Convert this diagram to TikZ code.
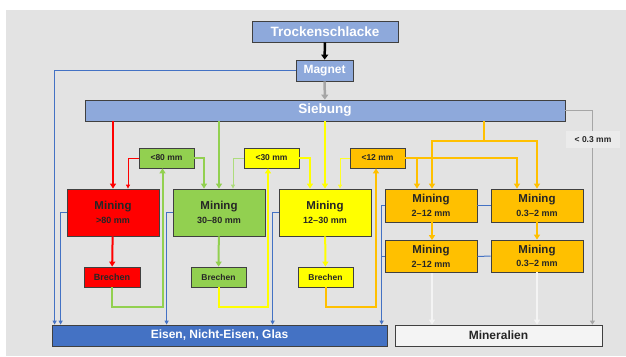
\documentclass[tikz,border=0pt]{standalone}
\usepackage{fontspec}
\setmainfont{Liberation Sans}
\usetikzlibrary{arrows.meta}

\definecolor{sbblue}{HTML}{8EA9DB}
\definecolor{darkblue}{HTML}{4472C4}
\definecolor{mred}{HTML}{FF0000}
\definecolor{mgreen}{HTML}{92D050}
\definecolor{myellow}{HTML}{FFFF00}
\definecolor{morange}{HTML}{FFC000}
\definecolor{bggray}{HTML}{E3E3E3}
\definecolor{lblgray}{HTML}{EBEBEB}
\definecolor{bordergray}{HTML}{404040}
\definecolor{linegray}{HTML}{A6A6A6}
\definecolor{offwhite}{HTML}{F4F4F4}
\definecolor{txtgray}{HTML}{262626}

\newcommand\miningtext[1]{\fontsize{11.5}{13}\selectfont Mining\\[1.5pt]\fontsize{9}{11}\selectfont #1}

\tikzset{
  box/.style={draw=bordergray,line width=0.8pt,inner sep=0pt,font=\bfseries,text=txtgray,align=center},
  head/.style={box,fill=sbblue,text=white,minimum height=21pt,font=\bfseries\fontsize{13.5}{15}\selectfont},
  klass/.style={box,minimum width=55pt,minimum height=20pt,font=\bfseries\fontsize{8.5}{10}\selectfont},
  mining/.style={box,minimum width=92pt},
  brech/.style={box,minimum width=55pt,minimum height=20pt,font=\bfseries\fontsize{8.5}{10}\selectfont},
  outbox/.style={box,minimum height=21pt,font=\bfseries\fontsize{12}{14}\selectfont},
  fat/.style={line width=2pt,-{Triangle[length=5pt,width=6pt]}},
  slim/.style={line width=0.9pt,-{Triangle[length=4pt,width=4pt]}},
  bline/.style={line width=1pt,darkblue,-{Triangle[length=4pt,width=4pt]}}
}

\begin{document}
\begin{tikzpicture}[x=1pt,y=-1pt]
  % background
  \useasboundingbox (0,0) rectangle (626,356);
  \fill[white] (0,0) rectangle (626,356);
  \fill[bggray] (6,10) rectangle (626,356);

  % main line
  \node[head,minimum width=146pt] (troc) at (325,31.5) {Trockenschlacke};
  \node[head,minimum width=57pt,font=\bfseries\fontsize{12}{14}\selectfont] (magnet) at (324.5,70.5) {Magnet};
  \node[head,minimum width=480pt] (sieb) at (325,110.5) {Siebung};

  % size classes
  \node[klass,fill=mgreen] (k80) at (166.5,158) {<80 mm};
  \node[klass,fill=myellow] (k30) at (271.5,158) {<30 mm};
  \node[klass,fill=morange] (k12) at (377.5,158) {<12 mm};

  % mining
  \node[mining,fill=mred,minimum height=47pt] (m80) at (113,212.5) {\miningtext{>80 mm}};
  \node[mining,fill=mgreen,minimum height=47pt] (m30) at (219,212.5) {\miningtext{30--80 mm}};
  \node[mining,fill=myellow,minimum height=47pt] (m12) at (325,212.5) {\miningtext{12--30 mm}};
  \node[mining,fill=morange,minimum height=33pt] (m212a) at (431,205.5) {\miningtext{2--12 mm}};
  \node[mining,fill=morange,minimum height=33pt] (m03a) at (537,205.5) {\miningtext{0.3--2 mm}};
  \node[mining,fill=morange,minimum height=32pt] (m212b) at (431,256.5) {\miningtext{2--12 mm}};
  \node[mining,fill=morange,minimum height=32pt] (m03b) at (537,256) {\miningtext{0.3--2 mm}};

  % crushers
  \node[brech,fill=mred,minimum width=56pt,font=\bfseries\fontsize{9}{10}\selectfont] (b80) at (112,277) {Brechen};
  \node[brech,fill=mgreen] (b30) at (218.5,277) {Brechen};
  \node[brech,fill=myellow] (b12) at (325.5,277) {Brechen};

  % products
  \node[outbox,fill=darkblue,text=white,minimum width=335pt] (eisen) at (219.5,335.5) {Eisen, Nicht-Eisen, Glas};
  \node[outbox,fill=offwhite,minimum width=207pt] (miner) at (498.5,335.5) {Mineralien};

  % feed
  \draw[line width=2.5pt,black,-{Triangle[length=5pt,width=7pt]}] (troc) -- (magnet);
  \draw[line width=2.5pt,linegray,-{Triangle[length=5pt,width=7pt]}] (magnet) -- (sieb);
  \draw[bline] (magnet.west) -| ([xshift=3]eisen.north west);
  \draw[line width=1.3pt,linegray,-{Triangle[length=4pt,width=5pt]}] (sieb.east) -| ([xshift=-10]miner.north east);
  \node[fill=lblgray,minimum width=54pt,minimum height=17pt,inner sep=0pt,font=\bfseries\fontsize{8.5}{10}\selectfont,text=txtgray] (l03) at (593,139.5) {< 0.3 mm};

  % screen outputs
  \draw[fat,mred] (sieb.south -| m80.north) -- (m80.north);
  \draw[fat,mgreen] (sieb.south -| m30.north) -- (m30.north);
  \draw[fat,myellow] (sieb.south -| m12.north) -- (m12.north);
  \coordinate (split) at (484,141);
  \draw[line width=2pt,morange] (sieb.south -| split) -- (split);
  \draw[line width=2pt,morange,{Triangle[length=5pt,width=6pt]}-{Triangle[length=5pt,width=6pt]}] ([xshift=1]m212a.north) |- (split) -| (m03a.north);

  % class boxes to mining
  \draw[slim,mred] (k80.west) -| ([xshift=15]m80.north);
  \draw[fat,mgreen] (k80.east) -| ([xshift=-15]m30.north);
  \draw[slim,mgreen!75!white] (k30.west) -| ([xshift=14]m30.north);
  \draw[fat,myellow] (k30.east) -| ([xshift=-15]m12.north);
  \draw[slim,myellow!85!white] (k12.west) -| ([xshift=15]m12.north);
  \draw[fat,morange] (k12.east) -| ([xshift=-20]m03a.north);
  \draw[fat,morange] ([xshift=-14]m212a.north |- k12.east) -- ([xshift=-14]m212a.north);

  % mining to crushers and back
  \draw[fat,mred] (m80) -- (b80);
  \draw[fat,mgreen] (m30) -- (b30);
  \draw[fat,myellow] (m12) -- (b12);
  \draw[fat,mgreen] (b80.south) -- ++(0,20) -| ([xshift=-4]k80.south);
  \draw[fat,myellow] (b30.south) -- ++(0,20) -| ([xshift=-3.5]k30.south);
  \draw[fat,morange] (b12.south) -- ++(0,20) -| ([xshift=-1.5]k12.south);

  % fine fractions
  \draw[fat,morange] ([xshift=1]m212a.south) -- ([xshift=1]m212b.north);
  \draw[fat,morange] (m03a) -- (m03b);
  \draw[fat,offwhite] ([xshift=1]m212b.south) -- ([xshift=1]m212b.south |- miner.north);
  \draw[fat,offwhite] (m03b.south) -- (m03b.south |- miner.north);

  % metals out
  \draw[bline] (m80.west) -| ([xshift=-6]m80.west |- eisen.north);
  \draw[bline] (m30.west) -| ([xshift=-6]m30.west |- eisen.north);
  \draw[bline] (m12.west) -| ([xshift=-6]m12.west |- eisen.north);
  \draw[bline] (m212a.west) -| ([xshift=-3]m212a.west |- eisen.north);
  \draw[line width=1pt,darkblue] (m212b.west) -- ++(-3,0);
  \draw[line width=1pt,darkblue] (m03a.west) -- (m212a.east);
  \draw[line width=1pt,darkblue] (m03b.west) -- (m212b.east);
\end{tikzpicture}
\end{document}
